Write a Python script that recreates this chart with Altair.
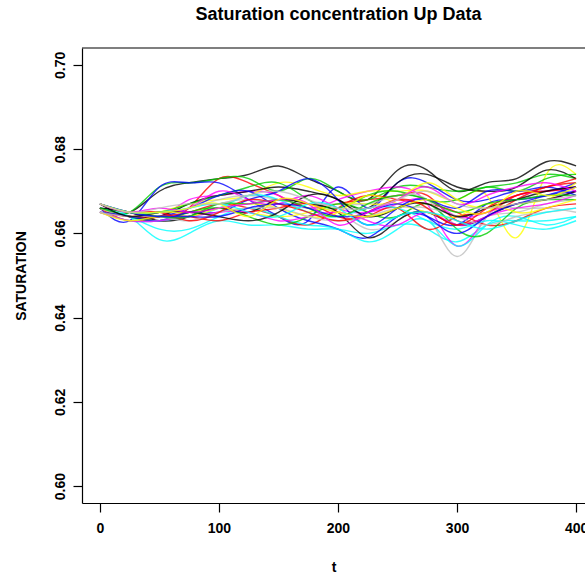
import altair as alt
import pandas as pd

t_grid = [0, 25, 50, 75, 100, 125, 150, 175, 200, 225, 250, 275, 300, 325, 350, 375, 400]

black_1 = [.666, .665, .670, .672, .673, .674, .676, .673, .670, .668, .675, .675, .670, .672, .673, .677, .676]
black_2 = [.666, .664, .664, .667, .669, .670, .671, .670, .668, .666, .672, .674, .671, .670, .671, .675, .673]
black_3 = [.666, .665, .663, .664, .666, .665, .668, .667, .665, .659, .663, .665, .662, .664, .667, .668, .670]
black_4 = [.667, .664, .665, .665, .664, .663, .665, .669, .668, .664, .666, .667, .664, .666, .668, .670, .671]
red_1 = [.666, .664, .663, .666, .673, .672, .669, .666, .667, .668, .669, .669, .663, .664, .668, .671, .672]
red_2 = [.666, .663, .664, .665, .667, .666, .664, .662, .666, .669, .668, .667, .665, .662, .663, .666, .667]
red_3 = [.665, .664, .664, .664, .663, .665, .666, .667, .664, .664, .666, .661, .664, .665, .669, .670, .671]
red_4 = [.667, .665, .665, .663, .665, .668, .667, .665, .663, .665, .668, .666, .662, .666, .669, .671, .673]
green_1 = [.666, .665, .671, .672, .673, .673, .670, .673, .670, .668, .671, .671, .670, .671, .672, .674, .673]
green_2 = [.666, .665, .665, .667, .669, .671, .672, .668, .666, .669, .670, .668, .668, .671, .670, .673, .674]
green_3 = [.666, .664, .663, .665, .666, .664, .662, .664, .667, .665, .664, .667, .661, .660, .666, .668, .668]
green_4 = [.667, .665, .664, .664, .667, .667, .668, .666, .664, .667, .669, .668, .665, .667, .668, .669, .669]
blue_1 = [.666, .663, .671, .672, .672, .668, .664, .663, .671, .666, .672, .672, .668, .668, .670, .670, .672]
blue_2 = [.666, .664, .664, .666, .669, .670, .666, .663, .661, .659, .664, .664, .662, .667, .668, .669, .670]
blue_3 = [.665, .664, .663, .665, .665, .668, .670, .673, .668, .662, .666, .668, .666, .670, .670, .671, .669]
blue_4 = [.667, .665, .664, .664, .664, .666, .667, .666, .664, .665, .667, .664, .660, .664, .667, .669, .671]
cyan_1 = [.666, .664, .6585, .660, .663, .662, .662, .661, .661, .660, .662, .661, .658, .662, .663, .663, .664]
cyan_2 = [.666, .664, .661, .661, .664, .666, .664, .662, .661, .658, .661, .663, .657, .662, .664, .662, .664]
cyan_3 = [.665, .663, .663, .664, .666, .669, .668, .665, .664, .666, .666, .663, .661, .663, .662, .661, .663]
cyan_4 = [.667, .665, .665, .666, .667, .665, .664, .667, .666, .662, .664, .665, .663, .661, .663, .665, .666]
magenta_1 = [.666, .665, .664, .668, .669, .670, .669, .666, .668, .670, .671, .667, .657, .664, .669, .670, .671]
magenta_2 = [.666, .664, .665, .666, .670, .668, .667, .669, .666, .665, .667, .668, .664, .665, .667, .668, .670]
magenta_3 = [.665, .663, .663, .664, .665, .665, .663, .664, .665, .663, .662, .665, .662, .664, .666, .667, .669]
magenta_4 = [.667, .665, .666, .665, .666, .667, .668, .667, .662, .665, .668, .671, .667, .669, .671, .672, .670]
yellow_1 = [.666, .664, .665, .667, .668, .669, .672, .671, .669, .670, .670, .670, .668, .669, .659, .674, .674]
yellow_2 = [.666, .664, .665, .665, .666, .665, .664, .665, .667, .667, .668, .672, .668, .666, .667, .668, .672]
yellow_3 = [.665, .663, .664, .664, .666, .667, .666, .664, .665, .669, .667, .665, .664, .667, .665, .666, .668]
yellow_4 = [.667, .665, .665, .666, .667, .664, .668, .667, .665, .664, .666, .668, .666, .665, .670, .669, .671]
gray_1 = [.666, .664, .664, .665, .667, .668, .667, .666, .665, .661, .663, .664, .6545, .664, .666, .666, .665]
gray_2 = [.666, .664, .665, .666, .668, .669, .668, .667, .667, .667, .669, .668, .662, .664, .665, .667, .668]
gray_3 = [.665, .664, .664, .663, .665, .666, .666, .664, .663, .664, .666, .666, .664, .662, .664, .665, .666]
gray_4 = [.667, .665, .666, .667, .667, .669, .670, .668, .666, .666, .668, .670, .667, .666, .667, .668, .669]

curves = [
    ("black_1", "black", black_1), ("red_1", "red", red_1), ("green_1", "green", green_1), ("blue_1", "blue", blue_1),
    ("cyan_1", "cyan", cyan_1), ("magenta_1", "magenta", magenta_1), ("yellow_1", "yellow", yellow_1), ("gray_1", "gray", gray_1),
    ("black_2", "black", black_2), ("red_2", "red", red_2), ("green_2", "green", green_2), ("blue_2", "blue", blue_2),
    ("cyan_2", "cyan", cyan_2), ("magenta_2", "magenta", magenta_2), ("yellow_2", "yellow", yellow_2), ("gray_2", "gray", gray_2),
    ("black_3", "black", black_3), ("red_3", "red", red_3), ("green_3", "green", green_3), ("blue_3", "blue", blue_3),
    ("cyan_3", "cyan", cyan_3), ("magenta_3", "magenta", magenta_3), ("yellow_3", "yellow", yellow_3), ("gray_3", "gray", gray_3),
    ("black_4", "black", black_4), ("red_4", "red", red_4), ("green_4", "green", green_4), ("blue_4", "blue", blue_4),
    ("cyan_4", "cyan", cyan_4), ("magenta_4", "magenta", magenta_4), ("yellow_4", "yellow", yellow_4), ("gray_4", "gray", gray_4),
]

palette_names = ["black", "red", "green", "blue", "cyan", "magenta", "yellow", "gray"]
palette_colors = ["#000000", "#FF0000", "#00CD00", "#0000FF", "#00FFFF", "#FF00FF", "#FFFF00", "#BEBEBE"]

x_ticks = [0, 100, 200, 300, 400]
y_ticks = [0.60, 0.62, 0.64, 0.66, 0.68, 0.70]

rows = []
for order, (name, col, vals) in enumerate(curves):
    for t, v in zip(t_grid, vals):
        rows.append({"curve": name, "col": col, "order": order, "t": t, "sat": v})
df = pd.DataFrame(rows)

FONT = "Liberation Sans"
W, H = 503, 455

lines = alt.Chart(df).mark_line(interpolate="natural", strokeWidth=1.4, opacity=0.8, clip=True).encode(
    x=alt.X("t:Q", scale=alt.Scale(domain=[-15, 407.5], nice=False, zero=False),
            axis=alt.Axis(values=x_ticks, title="t", grid=False, format="d",
                          domainColor="black", tickColor="black", tickSize=9, domainWidth=1.2, tickWidth=1.2,
                          labelFont=FONT, labelFontSize=14, labelFontWeight="bold", labelColor="black", labelPadding=9,
                          titleFont=FONT, titleFontSize=14, titleFontWeight="bold", titleColor="black",
                          titlePadding=25)),
    y=alt.Y("sat:Q", scale=alt.Scale(domain=[0.596, 0.704], nice=False, zero=False),
            axis=alt.Axis(values=y_ticks, title="SATURATION", grid=False, format=".2f",
                          domainColor="black", tickColor="black", tickSize=9, domainWidth=1.2, tickWidth=1.2,
                          labelFont=FONT, labelFontSize=14, labelFontWeight="bold", labelColor="black", labelPadding=6,
                          labelAngle=270, labelAlign="center", labelBaseline="bottom",
                          titleFont=FONT, titleFontSize=14, titleFontWeight="bold", titleColor="black",
                          titlePadding=25)),
    color=alt.Color("col:N", scale=alt.Scale(domain=palette_names, range=palette_colors), legend=None),
    detail="curve:N",
    order="order:Q",
)

frame_top = alt.Chart(pd.DataFrame({"a": [0]})).mark_rule(color="black", strokeWidth=1.2).encode(
    x=alt.value(0), x2=alt.value(W), y=alt.value(0)
)

chart = alt.layer(lines, frame_top).properties(
    width=W, height=H,
    title=alt.TitleParams("Saturation concentration Up Data", font=FONT, fontSize=18, fontWeight="bold",
                          color="black", anchor="middle", offset=23, dx=5),
    padding={"left": 82, "top": 48, "right": 0, "bottom": 74},
    autosize="none",
).configure_view(stroke=None)

chart.save("out.html", embed_options={"renderer": "svg", "actions": False})
